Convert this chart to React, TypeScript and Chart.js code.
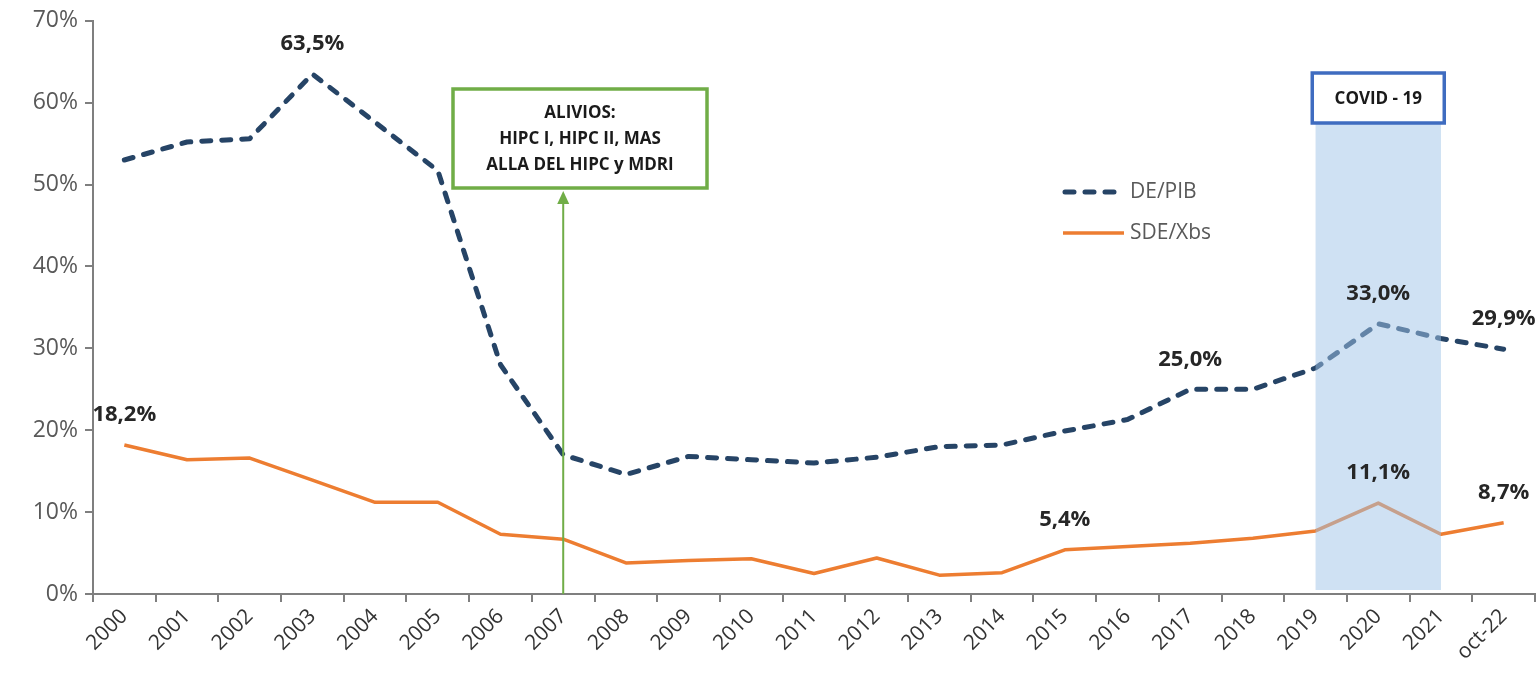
import React, { useEffect, useRef } from "react";
import { Chart, registerables } from "chart.js";

Chart.register(...registerables);

const categories = [
  "2000", "2001", "2002", "2003", "2004", "2005", "2006", "2007", "2008", "2009", "2010",
  "2011", "2012", "2013", "2014", "2015", "2016", "2017", "2018", "2019", "2020", "2021", "oct-22",
];

const dePib = [
  53.0, 55.2, 55.6, 63.5, 57.6, 51.7, 28.0, 17.0, 14.6, 16.8, 16.4,
  16.0, 16.7, 18.0, 18.2, 19.9, 21.3, 25.0, 25.0, 27.6, 33.0, 31.2, 29.9,
];

const sdeXbs = [
  18.2, 16.4, 16.6, 13.9, 11.2, 11.2, 7.3, 6.7, 3.8, 4.1, 4.3,
  2.5, 4.4, 2.3, 2.6, 5.4, 5.8, 6.2, 6.8, 7.7, 11.1, 7.3, 8.7,
];

const seriesNames = ["DE/PIB", "SDE/Xbs"];
const yTicks = [0, 10, 20, 30, 40, 50, 60, 70];

// indexes of labelled points per series
const dePibLabelled = [3, 17, 20, 22];
const sdeXbsLabelled = [0, 15, 20, 22];

const reliefText = ["ALIVIOS:", "HIPC I, HIPC II, MAS", "ALLA DEL HIPC y MDRI"];
const reliefIndex = 7;
const covidText = "COVID - 19";
const covidStart = 19;
const covidEnd = 21;

const FONT = "'Open Sans', 'DejaVu Sans', sans-serif";
const NAVY = "#264466";
const ORANGE = "#ed7d31";

const fmt = (v: number) => v.toFixed(1).replace(".", ",") + "%";

const overlay = {
  id: "overlay",
  afterDatasetsDraw(chart: any) {
    const { ctx, scales } = chart;
    const x = scales.x;
    const y = scales.y;
    const bottom = y.getPixelForValue(0);
    ctx.save();

    // COVID band
    const bx0 = x.getPixelForValue(covidStart);
    const bx1 = x.getPixelForValue(covidEnd);
    ctx.fillStyle = "rgba(160,196,232,0.5)";
    ctx.fillRect(bx0, 124, bx1 - bx0, bottom - 4 - 124);

    // COVID box
    const cx = (bx0 + bx1) / 2;
    ctx.fillStyle = "#ffffff";
    ctx.fillRect(cx - 66, 73, 132, 50);
    ctx.strokeStyle = "#3f6cc0";
    ctx.lineWidth = 3.5;
    ctx.strokeRect(cx - 66, 73, 132, 50);
    ctx.fillStyle = "#1a1a1a";
    ctx.font = `bold 17px ${FONT}`;
    ctx.textAlign = "center";
    ctx.textBaseline = "middle";
    ctx.fillText(covidText, cx, 99);

    // relief arrow
    const ax = x.getPixelForValue(reliefIndex);
    ctx.strokeStyle = "#70ad47";
    ctx.lineWidth = 2;
    ctx.beginPath();
    ctx.moveTo(ax, bottom);
    ctx.lineTo(ax, 200);
    ctx.stroke();
    ctx.fillStyle = "#70ad47";
    ctx.beginPath();
    ctx.moveTo(ax, 191);
    ctx.lineTo(ax - 6, 204);
    ctx.lineTo(ax + 6, 204);
    ctx.closePath();
    ctx.fill();

    // relief box
    ctx.fillStyle = "#ffffff";
    ctx.fillRect(453, 89, 254, 99);
    ctx.strokeStyle = "#70ad47";
    ctx.lineWidth = 3.5;
    ctx.strokeRect(453, 89, 254, 99);
    ctx.fillStyle = "#1a1a1a";
    ctx.font = `bold 17px ${FONT}`;
    reliefText.forEach((t, i) => ctx.fillText(t, 580, 113 + i * 26));

    // data labels
    ctx.font = `bold 22px ${FONT}`;
    ctx.fillStyle = "#262626";
    const drawLabels = (vals: number[], idx: number[]) => {
      idx.forEach((i) => {
        const px = x.getPixelForValue(i);
        const py = y.getPixelForValue(vals[i]);
        ctx.fillText(fmt(vals[i]), px, py - 30);
      });
    };
    drawLabels(dePib, dePibLabelled);
    drawLabels(sdeXbs, sdeXbsLabelled);

    // legend
    ctx.lineCap = "round";
    ctx.strokeStyle = NAVY;
    ctx.lineWidth = 5;
    ctx.setLineDash([9, 11]);
    ctx.beginPath();
    ctx.moveTo(1065, 192);
    ctx.lineTo(1122, 192);
    ctx.stroke();
    ctx.setLineDash([]);
    ctx.strokeStyle = ORANGE;
    ctx.lineWidth = 3.5;
    ctx.lineCap = "butt";
    ctx.beginPath();
    ctx.moveTo(1063, 233);
    ctx.lineTo(1124, 233);
    ctx.stroke();
    ctx.fillStyle = "#595959";
    ctx.font = `21px ${FONT}`;
    ctx.textAlign = "left";
    ctx.fillText(seriesNames[0], 1130, 192);
    ctx.fillText(seriesNames[1], 1130, 233);

    ctx.restore();
  },
};

export default function App() {
  const ref = useRef<HTMLCanvasElement>(null);
  useEffect(() => {
    if (!ref.current) return;
    const chart = new Chart(ref.current, {
      type: "line",
      data: {
        labels: categories,
        datasets: [
          {
            label: seriesNames[0],
            data: dePib,
            borderColor: NAVY,
            borderWidth: 5,
            borderDash: [9, 11],
            borderCapStyle: "round",
            borderJoinStyle: "round",
            pointRadius: 0,
            tension: 0,
          },
          {
            label: seriesNames[1],
            data: sdeXbs,
            borderColor: ORANGE,
            borderWidth: 3.5,
            borderJoinStyle: "round",
            pointRadius: 0,
            tension: 0,
          },
        ],
      },
      options: {
        animation: false,
        responsive: false,
        maintainAspectRatio: false,
        layout: { padding: { top: 20, right: 5, left: 0, bottom: 0 } },
        plugins: { legend: { display: false }, tooltip: { enabled: false } },
        scales: {
          x: {
            offset: true,
            grid: { offset: true, drawOnChartArea: false, drawTicks: true, tickLength: 8, color: "#7f7f7f", lineWidth: 2 },
            border: { color: "#7f7f7f", width: 2 },
            ticks: { minRotation: 45, maxRotation: 45, color: "#333333", font: { family: FONT, size: 21 }, padding: 2 },
            afterFit: (s: any) => { s.height = 83; },
          },
          y: {
            min: 0,
            max: 70,
            afterBuildTicks: (s: any) => { s.ticks = yTicks.map((v) => ({ value: v })); },
            grid: { drawOnChartArea: false, drawTicks: true, tickLength: 8, color: "#7f7f7f", lineWidth: 2 },
            border: { color: "#7f7f7f", width: 2 },
            ticks: { color: "#595959", font: { family: FONT, size: 23 }, padding: 7, callback: (v: any) => `${v}%` },
            afterFit: (s: any) => { s.width = 93; },
          },
        },
      },
      plugins: [overlay],
    });
    return () => chart.destroy();
  }, []);
  return (
    <div style={{ position: "fixed", left: 0, top: 0, width: 1540, height: 677, background: "#ffffff" }}>
      <canvas ref={ref} width={1540} height={677} style={{ width: 1540, height: 677 }} />
    </div>
  );
}
